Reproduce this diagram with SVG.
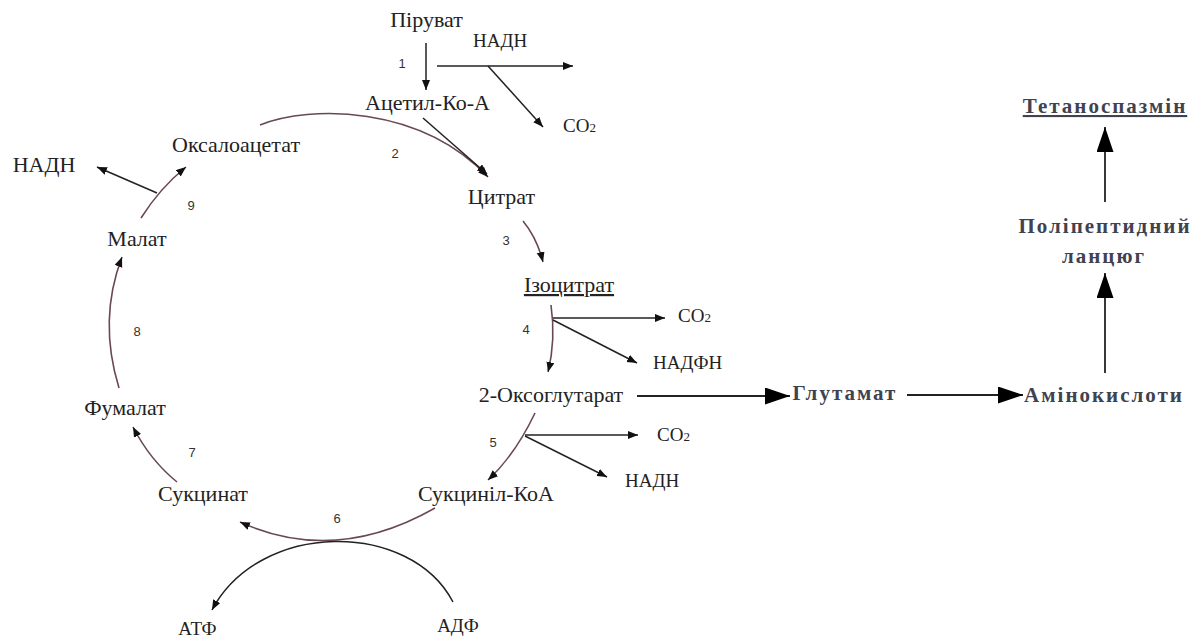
<svg xmlns="http://www.w3.org/2000/svg" width="1199" height="643" viewBox="0 0 1199 643">
<style>
.t{font-family:"Liberation Serif","Times New Roman",serif;font-size:22px;fill:#222;}
.s{font-family:"Liberation Serif","Times New Roman",serif;font-size:19px;fill:#222;}
.n{font-family:"Liberation Sans",Arial,sans-serif;font-size:13px;fill:#333;}
.b{font-family:"Liberation Serif","Times New Roman",serif;font-size:21px;font-weight:bold;fill:#3f4350;letter-spacing:2px;}
.u{text-decoration:underline;}
.cy{fill:none;stroke:#6a4758;stroke-width:1.6;marker-end:url(#ah);}
.ln{fill:none;stroke:#222;stroke-width:1.5;marker-end:url(#ah);}
.bg{fill:none;stroke:#222;stroke-width:1.8;marker-end:url(#big);}
</style>
<defs>
<marker id="ah" markerUnits="userSpaceOnUse" markerWidth="11" markerHeight="9" refX="10" refY="4" orient="auto">
<path d="M0,0 L10,4 L0,8 z" fill="#111"/>
</marker>
<marker id="big" markerUnits="userSpaceOnUse" markerWidth="26" markerHeight="18" refX="25" refY="8.5" orient="auto">
<path d="M0,0 L25,8.5 L0,17 z" fill="#000"/>
</marker>
</defs>
<rect width="1199" height="643" fill="#fff"/>

<g id="connectors">
<path class="ln" d="M426,43 L426,90"/>
<path class="ln" d="M437,66 L573,66"/>
<path class="ln" d="M488,66 L543,127"/>
<path class="cy" d="M260,125 C310,105 420,105 488,177"/>
<path class="ln" d="M423,118 L487,174"/>
<path class="cy" d="M523,221 Q537,238 543,262"/>
<path class="cy" d="M551,305 Q556,340 548,372"/>
<path class="ln" d="M553,318 L665,318"/>
<path class="ln" d="M553,320 L637,363"/>
<path class="bg" d="M637,396 L790,396"/>
<path class="cy" d="M535,413 Q515,455 488,480"/>
<path class="ln" d="M525,435 L638,435"/>
<path class="ln" d="M525,436 L607,477"/>
<path class="cy" d="M435,508 Q335,565 240,522"/>
<path class="ln" d="M453,602 C410,520 260,520 212,610"/>
<path class="cy" d="M177,482 Q150,460 133,427"/>
<path class="cy" d="M119,388 Q98,320 122,257"/>
<path class="cy" d="M141,218 Q160,188 186,167"/>
<path class="ln" d="M157,193 L97,167"/>
<path class="bg" d="M907,395 L1023,395"/>
<path class="bg" d="M1105,373 L1105,273"/>
<path class="bg" d="M1105,202 L1105,127"/>
</g>

<g id="piruvat"><text class="t" x="426.5" y="27" text-anchor="middle">Піруват</text></g>
<g id="nadh1"><text class="s" x="473" y="47">НАДН</text></g>
<g id="acetyl"><text class="t" x="427.5" y="110" text-anchor="middle">Ацетил-Ко-А</text></g>
<g id="co2-1"><text class="s" x="563" y="132">CO<tspan font-size="13">2</tspan></text></g>
<g id="oxaloacetate"><text class="t" x="236" y="152" text-anchor="middle">Оксалоацетат</text></g>
<g id="citrate"><text class="t" x="501.5" y="204" text-anchor="middle">Цитрат</text></g>
<g id="isocitrate"><text class="t u" x="569" y="292" text-anchor="middle">Ізоцитрат</text></g>
<g id="co2-4"><text class="s" x="678" y="322">CO<tspan font-size="13">2</tspan></text></g>
<g id="nadph"><text class="s" x="653" y="369">НАДФН</text></g>
<g id="oxoglutarate"><text class="t" x="551" y="402" text-anchor="middle">2-Оксоглутарат</text></g>
<g id="co2-5"><text class="s" x="657" y="441">CO<tspan font-size="13">2</tspan></text></g>
<g id="nadh5"><text class="s" x="625" y="487">НАДН</text></g>
<g id="succinylcoa"><text class="t" x="486" y="501" text-anchor="middle">Сукциніл-КоА</text></g>
<g id="succinate"><text class="t" x="203" y="501" text-anchor="middle">Сукцинат</text></g>
<g id="atp"><text class="s" x="197.5" y="635" text-anchor="middle">АТФ</text></g>
<g id="adp"><text class="s" x="458" y="632" text-anchor="middle">АДФ</text></g>
<g id="fumarate"><text class="t" x="125" y="415" text-anchor="middle">Фумалат</text></g>
<g id="malate"><text class="t" x="137" y="246" text-anchor="middle">Малат</text></g>
<g id="nadh9"><text class="t" x="44" y="172" text-anchor="middle">НАДН</text></g>

<g id="steps">
<text class="n" x="402" y="68" text-anchor="middle">1</text>
<text class="n" x="395" y="158" text-anchor="middle">2</text>
<text class="n" x="506" y="245" text-anchor="middle">3</text>
<text class="n" x="526" y="334" text-anchor="middle">4</text>
<text class="n" x="493" y="447" text-anchor="middle">5</text>
<text class="n" x="337" y="523" text-anchor="middle">6</text>
<text class="n" x="192" y="457" text-anchor="middle">7</text>
<text class="n" x="137" y="336" text-anchor="middle">8</text>
<text class="n" x="191" y="210" text-anchor="middle">9</text>
</g>

<g id="glutamate"><text class="b" x="845" y="400" text-anchor="middle">Глутамат</text></g>
<g id="aminoacids"><text class="b" x="1104" y="402" text-anchor="middle">Амінокислоти</text></g>
<g id="polypeptide"><text class="b" x="1105" y="233" text-anchor="middle">Поліпептидний</text><text class="b" x="1104" y="263" text-anchor="middle">ланцюг</text></g>
<g id="tetanospasmin"><text class="b u" x="1105" y="113" text-anchor="middle">Тетаноспазмін</text></g>
</svg>
